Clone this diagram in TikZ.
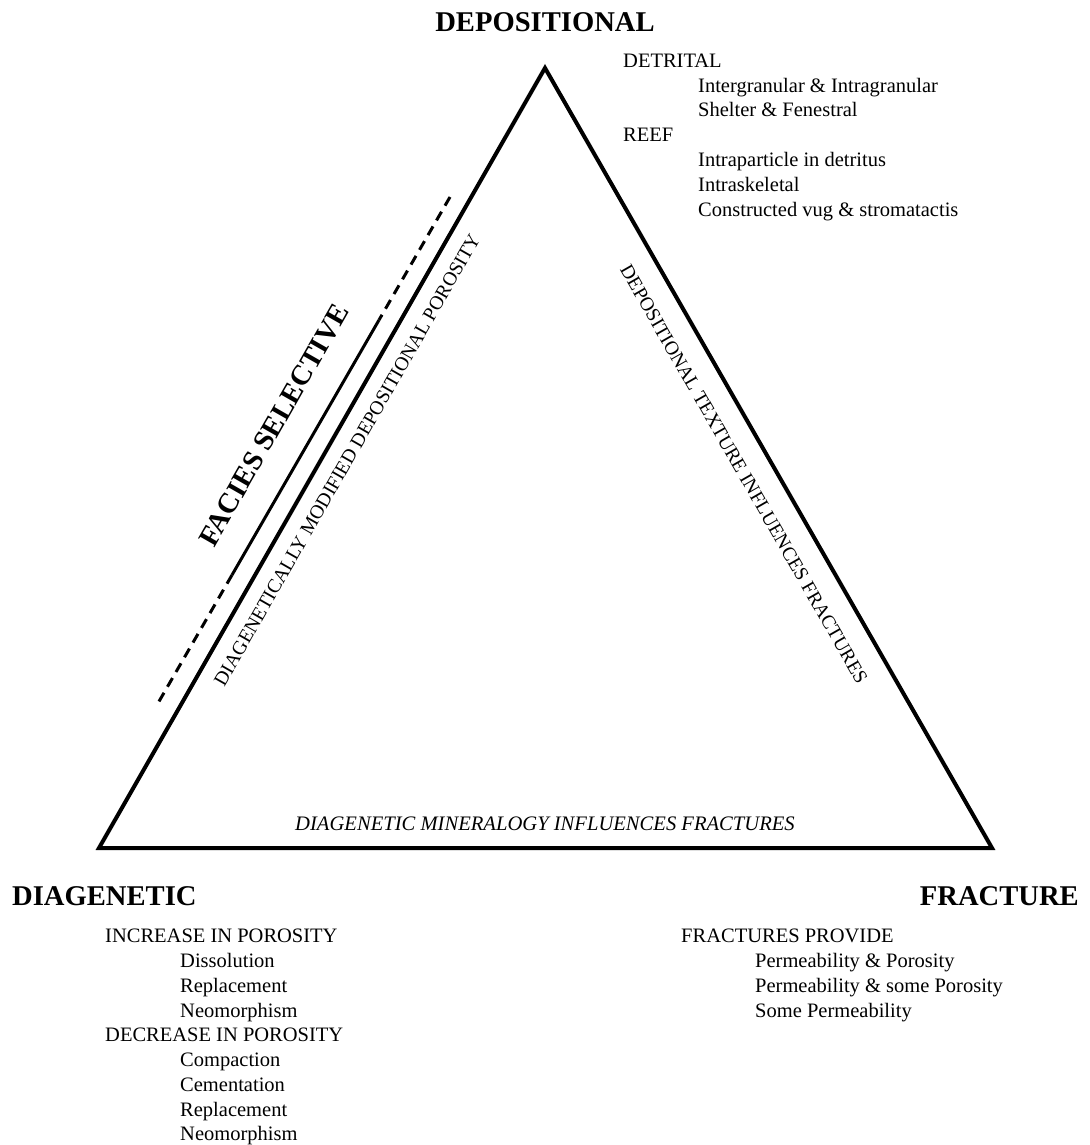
\documentclass[tikz,border=0pt]{standalone}
\usepackage{fontspec}
\setmainfont{Liberation Serif}
\begin{document}
\begin{tikzpicture}[x=1pt,y=-1pt,
  hdr/.style={font=\fontsize{28.6}{32}\selectfont\bfseries, inner sep=0pt},
  txt/.style={font=\fontsize{20.5}{24}\selectfont, inner sep=0pt, anchor=base west},
  sidetxt/.style={font=\fontsize{19.6}{24}\selectfont, inner sep=0pt},
  tri/.style={line width=4pt, line join=miter},
  guide/.style={line width=3pt},
  guidedash/.style={line width=3pt, dash pattern=on 10pt off 7pt}]
\useasboundingbox (0,0) rectangle (1089,1145);
% triangle
\coordinate (A) at (545,68);
\coordinate (B) at (99,848);
\coordinate (C) at (992,848);
\draw[tri] (A) -- (B) -- (C) -- cycle;
% facies selective guide line
\coordinate (g1) at (450,197);
\coordinate (g2) at (379,320);
\coordinate (g3) at (232,575);
\coordinate (g4) at (157.5,704);
\draw[guidedash] (g1) -- (g2);
\draw[guide] (g2) -- (g3);
\draw[guidedash] (g3) -- (g4);
% headings
\node[hdr, anchor=base] (dep) at (545,32) {DEPOSITIONAL};
\node[hdr, anchor=base west] (dia) at (12,905) {DIAGENETIC};
\node[hdr, anchor=base east] (fra) at (1079,905) {FRACTURE};
% side labels
\node[hdr, rotate=60.24] (fac) at (274,425) {FACIES SELECTIVE};
\node[sidetxt, rotate=60.24] (dmd) at (347,460) {DIAGENETICALLY MODIFIED DEPOSITIONAL POROSITY};
\node[sidetxt, rotate=-60.24] (dtf) at (744,474) {DEPOSITIONAL TEXTURE INFLUENCES FRACTURES};
\node[font=\fontsize{20.6}{24}\selectfont\itshape, inner sep=0pt, anchor=base] (dmf) at (545,830) {DIAGENETIC MINERALOGY INFLUENCES FRACTURES};
% depositional list
\node[txt] (d1) at (623,68) {DETRITAL};
\node[txt] (d2) at (698,93) {Intergranular \& Intragranular};
\node[txt] (d3) at (698,117) {Shelter \& Fenestral};
\node[txt] (d4) at (623,142) {REEF};
\node[txt] (d5) at (698,166) {Intraparticle in detritus};
\node[txt] (d6) at (698,191) {Intraskeletal};
\node[txt] (d7) at (698,216) {Constructed vug \& stromatactis};
% diagenetic list
\node[txt] (g01) at (105,942) {INCREASE IN POROSITY};
\node[txt] (g02) at (180,967) {Dissolution};
\node[txt] (g03) at (180,992) {Replacement};
\node[txt] (g04) at (180,1017) {Neomorphism};
\node[txt] (g05) at (105,1041) {DECREASE IN POROSITY};
\node[txt] (g06) at (180,1066) {Compaction};
\node[txt] (g07) at (180,1091) {Cementation};
\node[txt] (g08) at (180,1116) {Replacement};
\node[txt] (g09) at (180,1140) {Neomorphism};
% fracture list
\node[txt] (f1) at (681,942) {FRACTURES PROVIDE};
\node[txt] (f2) at (755,967) {Permeability \& Porosity};
\node[txt] (f3) at (755,992) {Permeability \& some Porosity};
\node[txt] (f4) at (755,1017) {Some Permeability};
\end{tikzpicture}
\end{document}
